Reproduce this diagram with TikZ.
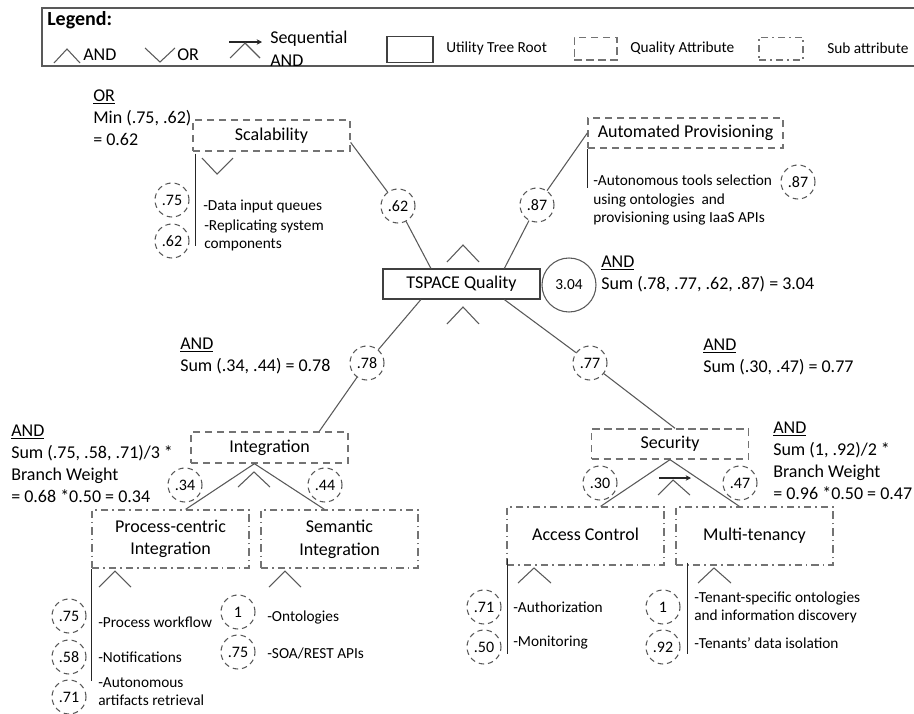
\documentclass[tikz,border=0pt]{standalone}
\usepackage{fontspec}
\setmainfont{Carlito}
\usetikzlibrary{arrows.meta}
\usetikzlibrary{calc}

\begin{document}
\begin{tikzpicture}
[
x=0.75pt, y=-0.75pt,
line-a/.style={draw=black!65, line width=0.8pt},
line-b/.style={draw=black!85, line width=0.8pt},
root-a/.style={rectangle, draw=black!75, line width=0.9pt, minimum width=117.75pt, minimum height=22.5pt, font=\fontsize{13.5}{16}\selectfont},
qual-a/.style={rectangle, draw=black!55, line width=1pt, dash pattern=on 5.5pt off 3.5pt, minimum width=117.75pt, minimum height=23.25pt, font=\fontsize{13.5}{16}\selectfont},
sub-a/.style={rectangle, draw=black!55, line width=1pt, dash pattern=on 5.5pt off 3pt on 1.2pt off 3pt, minimum width=117.75pt, minimum height=43.5pt, align=center, font=\fontsize{13.5}{17}\selectfont},
wt-a/.style={circle, draw=black!65, line width=0.8pt, dash pattern=on 4pt off 3pt, minimum size=25.5pt, inner sep=0pt, font=\fontsize{12}{13}\selectfont},
text-a/.style={anchor=west, inner sep=0pt, align=left, font=\fontsize{13.5}{16.5}\selectfont},
note-a/.style={anchor=west, inner sep=0pt, align=left, font=\fontsize{11.5}{13.5}\selectfont},
leg-a/.style={anchor=west, inner sep=0pt, font=\fontsize{11.5}{13}\selectfont},
]
\useasboundingbox (0,0) rectangle (914,714);

% legend
\draw [draw=black!65, line width=1.4pt] (914,8) -- (42,8) -- (42,66) -- (914,66);
\node (lg)     [text-a, font=\fontsize{15}{18}\bfseries\selectfont] at (47,20) {Legend:};
\draw [line-a] (54,63) -- (67,49) -- (80,63);
\node (l-and)  [text-a] at (83,55) {AND};
\draw [line-a] (145,48) -- (160,62) -- (175,48);
\node (l-or)   [text-a] at (177,55) {OR};
\draw [line-b, -{Stealth[length=4pt, width=4pt]}] (229,42) -- (262,42);
\draw [line-a] (230,58) -- (245,43) -- (260,58);
\node (l-seq)  [text-a, font=\fontsize{13.5}{17.25}\selectfont] at (270,48.5) {Sequential\\AND};
\node (l-root) [root-a, minimum width=34.5pt, minimum height=20pt] at (410,49.5) {};
\node (l-rt)   [leg-a]  at (446,48) {Utility Tree Root};
\node (l-qual) [qual-a, minimum width=32pt, minimum height=17pt] at (595.5,48.5) {};
\node (l-qt)   [leg-a]  at (630,48) {Quality Attribute};
\node (l-sub)  [sub-a,  minimum width=33pt, minimum height=17pt] at (781,48.5) {};
\node (l-st)   [leg-a]  at (827,48) {Sub attribute};

% tree nodes
\node (root)  [root-a] at (461.5,284)  {TSPACE Quality};
\node (tot)   [circle, draw=black!65, line width=0.8pt, minimum size=40.5pt, inner sep=0pt, font=\fontsize{11.5}{13}\selectfont] at (569,285) {3.04};
\node (scal)  [qual-a] at (271.5,135.5) {Scalability};
\node (auto)  [qual-a, minimum width=146.25pt, minimum height=22.5pt] at (685.5,133) {Automated Provisioning};
\node (integ) [qual-a] at (269.5,447.5) {Integration};
\node (secu)  [qual-a, minimum height=22.5pt] at (670,444) {Security};
\node (proc)  [sub-a]  at (170.5,539) {Process-centric\\Integration};
\node (sem)   [sub-a]  at (339.5,539) {Semantic\\Integration};
\node (acc)   [sub-a, text height=9.5pt, text depth=3pt] at (585.5,536) {Access Control};
\node (mult)  [sub-a, text height=9.5pt, text depth=3pt] at (754.5,536) {Multi-tenancy};

% weights
\node (w62) [wt-a] at (398,206) {.62};
\node (w87) [wt-a] at (537,205) {.87};
\node (w78) [wt-a] at (367,363) {.78};
\node (w77) [wt-a] at (590,363) {.77};
\node (w34) [wt-a] at (185,485) {.34};
\node (w44) [wt-a] at (325,485) {.44};
\node (w30) [wt-a] at (600,483) {.30};
\node (w47) [wt-a] at (740,483) {.47};
\node (s75) [wt-a] at (172,200) {.75};
\node (s62) [wt-a] at (172,241) {.62};
\node (a87) [wt-a] at (798,182) {.87};
\node (p75) [wt-a] at (69,616)  {.75};
\node (p58) [wt-a] at (69,657)  {.58};
\node (p71) [wt-a] at (69,697)  {.71};
\node (e1)  [wt-a] at (238,612) {1};
\node (e75) [wt-a] at (238,652) {.75};
\node (c71) [wt-a] at (484,607) {.71};
\node (c50) [wt-a] at (484,647) {.50};
\node (m1)  [wt-a] at (663,607) {1};
\node (m92) [wt-a] at (663,647) {.92};

% branches
\draw [line-a] (root.153)   -- (w62);
\draw [line-a] (w62)        -- (scal.-5);
\draw [line-a] (root.20)    -- (w87);
\draw [line-a] (w87)        -- (auto.west);
\draw [line-a] (root.201)   -- (w78);
\draw [line-a] (w78)        -- (integ.18);
\draw [line-a] (root.-20)   -- (w77);
\draw [line-a] (w77)        -- (secu.72);
\draw [line-a] (integ.227)  -- (proc.63);
\draw [line-a] (integ.227)  -- (sem.117);
\draw [line-a] (secu.south) -- (acc.63);
\draw [line-a] (secu.south) -- (mult.117);

% and / or marks
\draw [line-a] (447,262) -- (463,245) -- (479,262);
\draw [line-a] (447,324) -- (463,307) -- (479,324);
\draw [line-a] (202,158) -- (217,174) -- (233,158);
\draw [line-a] (238,487) -- (254,472) -- (270,487);
\draw [line-a] (99,587)  -- (115,571) -- (131,587);
\draw [line-a] (269,587) -- (285,571) -- (301,587);
\draw [line-a] (518,583) -- (534,568) -- (551,583);
\draw [line-a] (698,583) -- (714,568) -- (731,583);
\draw [line-a] (658,495) -- (673,480) -- (690,495);
\draw [line-b, -{Stealth[length=4pt, width=4pt]}] (659,478) -- (691,478);

% item bars
\draw [line-b] ($(scal.south west)+(3,2)$)  -- ++(0,92);
\draw [line-b] (auto.south west)            -- ++(0,39);
\draw [line-b] (proc.south west)            -- ++(0,112);
\draw [line-b] ($(acc.south west)+(1,-7)$)  -- ++(0,95);
\draw [line-b] ($(mult.south west)+(12,-3)$) -- ++(0,91);

% calculations
\node (tot-l)   [text-a] at (601,274)   {\underline{AND}\\Sum (.78, .77, .62, .87) = 3.04};
\node (scal-l)  [text-a] at (93,118)    {\underline{OR}\\Min (.75, .62)\\= 0.62};
\node (integ-l) [text-a] at (180,355.5) {\underline{AND}\\Sum (.34, .44) = 0.78};
\node (secu-l)  [text-a] at (703,357)   {\underline{AND}\\Sum (.30, .47) = 0.77};
\node (proc-l)  [text-a] at (11,464)    {\underline{AND}\\Sum (.75, .58, .71)/3 *\\Branch Weight\\= 0.68 *0.50 = 0.34};
\node (mult-l)  [text-a] at (773,461)   {\underline{AND}\\Sum (1, .92)/2 *\\Branch Weight\\= 0.96 *0.50 = 0.47};

% items
\node (s-t1) [note-a] at (203,206)   {-Data input queues};
\node (s-t2) [note-a] at (204,235.5) {-Replicating system\\components};
\node (a-t1) [note-a, font=\fontsize{11.5}{13.9}\selectfont] at (593,200) {-Autonomous tools selection\\using ontologies\ \ and\\provisioning using IaaS APIs};
\node (p-t1) [note-a] at (98,622)    {-Process workflow};
\node (p-t2) [note-a] at (98,657)    {-Notifications};
\node (p-t3) [note-a] at (98,692)    {-Autonomous\\artifacts retrieval};
\node (e-t1) [note-a] at (267,617)   {-Ontologies};
\node (e-t2) [note-a] at (267,653)   {-SOA/REST APIs};
\node (c-t1) [note-a] at (513,607)   {-Authorization};
\node (c-t2) [note-a] at (513,643)   {-Monitoring};
\node (m-t1) [note-a] at (694,607.5) {-Tenant-specific ontologies\\and information discovery};
\node (m-t2) [note-a] at (694,643)   {-Tenants’ data isolation};
\end{tikzpicture}
\end{document}
